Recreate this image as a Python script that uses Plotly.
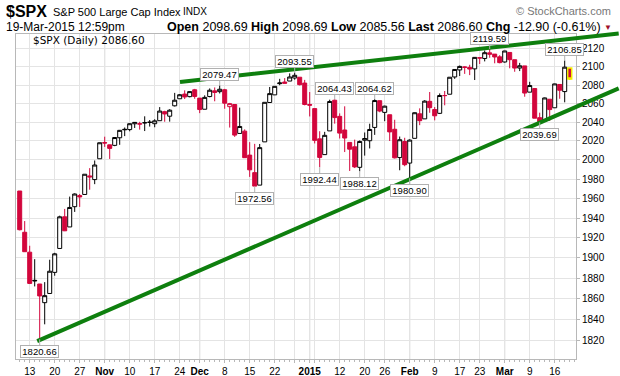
import numpy as np
import plotly.graph_objects as go

# ---------------- data ----------------
dates = [
    "2014-10-09", "2014-10-10", "2014-10-13", "2014-10-14", "2014-10-15", "2014-10-16", "2014-10-17",
    "2014-10-20", "2014-10-21", "2014-10-22", "2014-10-23", "2014-10-24", "2014-10-27", "2014-10-28",
    "2014-10-29", "2014-10-30", "2014-10-31",
    "2014-11-03", "2014-11-04", "2014-11-05", "2014-11-06", "2014-11-07", "2014-11-10", "2014-11-11",
    "2014-11-12", "2014-11-13", "2014-11-14", "2014-11-17", "2014-11-18", "2014-11-19", "2014-11-20",
    "2014-11-21", "2014-11-24", "2014-11-25", "2014-11-26", "2014-11-28",
    "2014-12-01", "2014-12-02", "2014-12-03", "2014-12-04", "2014-12-05", "2014-12-08", "2014-12-09",
    "2014-12-10", "2014-12-11", "2014-12-12", "2014-12-15", "2014-12-16", "2014-12-17", "2014-12-18",
    "2014-12-19", "2014-12-22", "2014-12-23", "2014-12-24", "2014-12-26", "2014-12-29", "2014-12-30",
    "2014-12-31",
    "2015-01-02", "2015-01-05", "2015-01-06", "2015-01-07", "2015-01-08", "2015-01-09", "2015-01-12",
    "2015-01-13", "2015-01-14", "2015-01-15", "2015-01-16", "2015-01-20", "2015-01-21", "2015-01-22",
    "2015-01-23", "2015-01-26", "2015-01-27", "2015-01-28", "2015-01-29", "2015-01-30",
    "2015-02-02", "2015-02-03", "2015-02-04", "2015-02-05", "2015-02-06", "2015-02-09", "2015-02-10",
    "2015-02-11", "2015-02-12", "2015-02-13", "2015-02-17", "2015-02-18", "2015-02-19", "2015-02-20",
    "2015-02-23", "2015-02-24", "2015-02-25", "2015-02-26", "2015-02-27",
    "2015-03-02", "2015-03-03", "2015-03-04", "2015-03-05", "2015-03-06", "2015-03-09", "2015-03-10",
    "2015-03-11", "2015-03-12", "2015-03-13", "2015-03-16", "2015-03-17", "2015-03-18", "2015-03-19",
]

opens = [
    1967.68, 1925.63, 1905.65, 1877.11, 1874.18, 1855.95, 1864.91, 1885.62, 1909.38, 1941.29, 1931.02,
    1951.59, 1962.97, 1964.14, 1983.29, 1979.49, 2001.20,
    2018.21, 2015.81, 2015.29, 2023.33, 2032.36, 2032.01, 2038.20, 2037.75, 2039.21, 2039.74, 2038.29,
    2041.48, 2051.16, 2046.31, 2057.46, 2065.07, 2070.15, 2067.36, 2074.78,
    2065.78, 2053.77, 2067.45, 2073.64, 2072.78, 2074.84, 2056.55, 2058.86, 2027.92, 2030.36, 2005.03,
    1986.71, 1973.77, 2018.98, 2061.04, 2069.28, 2081.48, 2083.25, 2084.30, 2087.63, 2088.49, 2082.11,
    2058.90, 2054.44, 2022.15, 2005.55, 2030.61, 2063.45, 2046.13, 2031.58, 2018.40, 2013.75, 1992.25,
    2020.76, 2020.19, 2034.30, 2062.98, 2050.42, 2047.86, 2032.34, 2002.45, 2019.35,
    1996.67, 2022.71, 2048.86, 2043.45, 2062.28, 2053.47, 2049.38, 2068.55, 2069.98, 2088.78, 2096.47,
    2099.16, 2099.25, 2097.65, 2109.83, 2109.10, 2115.30, 2113.91, 2110.88,
    2105.23, 2115.76, 2107.72, 2098.54, 2100.91, 2072.25, 2076.14, 2044.69, 2041.10, 2064.56, 2055.35,
    2080.59, 2072.84, 2098.69,
]

highs = [
    1967.68, 1936.98, 1912.09, 1898.71, 1874.18, 1876.01, 1898.16, 1905.03, 1942.45, 1949.31, 1961.95,
    1965.27, 1964.64, 1985.05, 1991.40, 1999.40, 2018.19,
    2024.46, 2015.98, 2023.77, 2031.61, 2034.26, 2038.70, 2039.82, 2040.33, 2046.18, 2042.22, 2043.07,
    2056.08, 2052.14, 2053.84, 2071.46, 2070.17, 2074.21, 2073.29, 2075.76,
    2065.78, 2068.77, 2076.28, 2077.34, 2079.47, 2075.78, 2060.60, 2058.86, 2055.53, 2032.25, 2018.69,
    2016.89, 2016.75, 2061.23, 2077.85, 2078.76, 2086.73, 2087.56, 2092.70, 2093.55, 2088.49, 2085.58,
    2072.36, 2054.44, 2030.25, 2029.61, 2064.08, 2064.43, 2049.30, 2056.93, 2018.40, 2021.35, 2020.46,
    2028.94, 2038.29, 2064.62, 2062.98, 2057.62, 2047.86, 2042.49, 2024.64, 2023.32,
    2021.66, 2050.30, 2054.74, 2063.55, 2072.40, 2056.16, 2070.86, 2073.48, 2088.53, 2097.03, 2101.30,
    2100.23, 2102.13, 2110.61, 2110.05, 2117.94, 2119.59, 2113.91, 2112.74,
    2117.52, 2115.76, 2107.72, 2104.25, 2100.91, 2083.49, 2076.14, 2050.08, 2066.41, 2064.56, 2081.41,
    2080.59, 2106.85, 2098.69,
]

lows = [
    1927.56, 1906.05, 1874.14, 1871.79, 1820.66, 1835.02, 1864.91, 1882.30, 1909.38, 1926.83, 1931.02,
    1946.27, 1951.37, 1964.14, 1969.04, 1974.75, 2001.20,
    2013.68, 2001.01, 2014.42, 2015.86, 2025.07, 2030.17, 2033.73, 2031.95, 2030.44, 2035.20, 2034.46,
    2041.48, 2040.37, 2040.49, 2056.75, 2065.07, 2064.75, 2066.62, 2065.06,
    2049.57, 2053.77, 2066.65, 2062.34, 2070.81, 2054.27, 2034.17, 2024.26, 2027.92, 2002.33, 1982.26,
    1972.56, 1973.77, 2018.98, 2061.03, 2069.28, 2079.77, 2081.86, 2084.30, 2085.75, 2079.53, 2057.94,
    2046.04, 2017.34, 1992.44, 2005.55, 2030.61, 2038.33, 2022.58, 2008.25, 1988.44, 1991.47, 1988.12,
    2004.49, 2012.04, 2026.38, 2050.54, 2040.97, 2019.91, 2001.49, 1989.18, 1993.38,
    1980.90, 2022.71, 2036.72, 2043.45, 2049.97, 2041.88, 2048.62, 2057.99, 2069.98, 2086.70, 2089.80,
    2092.15, 2090.79, 2085.44, 2103.00, 2105.87, 2109.89, 2103.76, 2103.75,
    2104.50, 2098.26, 2094.49, 2095.22, 2067.27, 2072.21, 2044.16, 2039.69, 2041.10, 2041.17, 2055.35,
    2065.08, 2061.23, 2085.56,
]

closes = [
    1928.21, 1906.13, 1874.74, 1877.70, 1862.49, 1862.76, 1886.76, 1904.01, 1941.28, 1927.11, 1950.82,
    1964.58, 1961.63, 1985.05, 1982.30, 1994.65, 2018.05,
    2017.81, 2012.10, 2023.57, 2031.21, 2031.92, 2038.26, 2039.68, 2038.25, 2039.33, 2039.82, 2041.32,
    2051.80, 2048.72, 2052.75, 2063.50, 2069.41, 2067.03, 2072.83, 2067.56,
    2053.44, 2066.55, 2074.33, 2071.92, 2075.37, 2060.31, 2059.82, 2026.14, 2035.33, 2002.33, 1989.63,
    1972.74, 2012.89, 2061.23, 2070.65, 2078.54, 2082.17, 2081.88, 2088.77, 2090.57, 2080.35, 2058.90,
    2058.20, 2020.58, 2002.61, 2025.90, 2062.14, 2044.81, 2028.26, 2023.03, 2011.27, 1992.67, 2019.42,
    2022.55, 2032.12, 2063.15, 2051.82, 2057.09, 2029.55, 2002.16, 2021.25, 1994.99,
    2020.85, 2050.03, 2041.51, 2062.52, 2055.47, 2046.74, 2068.59, 2068.53, 2088.48, 2096.99, 2100.34,
    2099.68, 2097.45, 2110.30, 2109.66, 2115.48, 2113.86, 2110.74, 2104.50,
    2117.39, 2107.78, 2098.53, 2101.04, 2071.26, 2079.43, 2044.16, 2040.24, 2065.95, 2053.40, 2081.19,
    2074.28, 2099.50, 2086.60,
]

prior_close = 1968.89  # close of the session before the first bar

week_tick_dates = [
    "2014-10-13", "2014-10-20", "2014-10-27", "2014-11-03", "2014-11-10", "2014-11-17", "2014-11-24",
    "2014-12-01", "2014-12-08", "2014-12-15", "2014-12-22", "2014-12-29", "2015-01-02", "2015-01-05",
    "2015-01-12", "2015-01-20", "2015-01-26", "2015-02-02", "2015-02-09", "2015-02-17", "2015-02-23",
    "2015-03-02", "2015-03-09", "2015-03-16",
]
week_tick_labels = [
    "13", "20", "27", "<b>Nov</b>", "10", "17", "24",
    "<b>Dec</b>", "8", "15", "22", "", "<b>2015</b>", "",
    "12", "20", "26", "<b>Feb</b>", "9", "17", "23",
    "<b>Mar</b>", "9", "16",
]
month_start_dates = ["2014-11-03", "2014-12-01", "2015-01-02", "2015-02-02", "2015-03-02"]

y_tick_values = [1820, 1840, 1860, 1880, 1900, 1920, 1940, 1960, 1980, 2000,
                 2020, 2040, 2060, 2080, 2100, 2120]

callout_dates = ["2014-10-15", "2014-12-05", "2014-12-16", "2014-12-29", "2015-01-06", "2015-01-09",
                 "2015-01-16", "2015-01-22", "2015-02-02", "2015-02-25", "2015-03-11", "2015-03-18"]
callout_values = [1820.66, 2079.47, 1972.56, 2093.55, 1992.44, 2064.43,
                  1988.12, 2064.62, 1980.90, 2119.59, 2039.69, 2106.85]
callout_above = [False, True, False, True, False, True,
                 False, True, False, True, False, True]

# hand-drawn trend lines: (bar position, price) at start and end
upper_trend_pos = [32.06, 120.1]
upper_trend_val = [2083.4, 2137.0]
lower_trend_pos = [3.5, 120.1]
lower_trend_val = [1819.0, 2077.0]

# ---------------- figure ----------------
RED = "#d2063c"
BLACK = "#000000"
GREEN = "#0e7f0e"
FONT = "Liberation Sans, Arial, sans-serif"

idx = list(range(len(dates)))
prev_close = [prior_close] + closes[:-1]
last = len(dates) - 1
up_idx = [i for i in idx if closes[i] >= prev_close[i] and i != last]
dn_idx = [i for i in idx if closes[i] < prev_close[i] and i != last]


def candle(sel, line_col, fill_dn, line_w=1.0):
    return go.Candlestick(
        x=[idx[i] for i in sel],
        open=[opens[i] for i in sel],
        high=[highs[i] for i in sel],
        low=[lows[i] for i in sel],
        close=[closes[i] for i in sel],
        increasing=dict(line=dict(color=line_col, width=line_w), fillcolor="#ffffff"),
        decreasing=dict(line=dict(color=line_col, width=line_w), fillcolor=fill_dn),
        whiskerwidth=0,
        showlegend=False,
        hoverinfo="skip",
    )


fig = go.Figure()
fig.add_trace(candle(up_idx, BLACK, BLACK))
fig.add_trace(candle(dn_idx, RED, RED))
# current (intraday) bar highlighted in yellow
last_col = RED if closes[last] < prev_close[last] else BLACK
fig.add_trace(candle([last], "#f2ee00", last_col, 1.5))

# month separators (darker vertical lines)
for d in month_start_dates:
    fig.add_shape(type="line", xref="x", yref="paper", x0=dates.index(d), x1=dates.index(d),
                  y0=0, y1=1, line=dict(color="#c2c2c2", width=1), layer="below")

# trend lines as data-anchored arrows (not clipped, so they run past the plot edge)
for pos, val in ((upper_trend_pos, upper_trend_val), (lower_trend_pos, lower_trend_val)):
    fig.add_annotation(
        x=pos[0], y=np.log10(val[0]), xref="x", yref="y",
        ax=pos[1], ay=np.log10(val[1]), axref="x", ayref="y",
        text="", showarrow=True, arrowhead=0, arrowwidth=4, arrowcolor=GREEN,
        standoff=0, startstandoff=0,
    )

# high/low callouts
for d, v, above in zip(callout_dates, callout_values, callout_above):
    fig.add_annotation(
        x=dates.index(d), y=np.log10(v), xref="x", yref="y",
        text=f"{v:.2f}", showarrow=True, arrowhead=0, arrowwidth=1, arrowcolor="#b0b0b0",
        ax=0, ay=-11 if above else 12, standoff=0,
        height=11, width=37,
        bgcolor="#ffffff", bordercolor="#b0b0b0", borderwidth=1, borderpad=0,
        font=dict(family=FONT, size=9.5, color="#000000"),
    )

# ---------------- layout / text ----------------
L, R, T, B = 16, 576, 34, 359
W, H = 620, 376


def px(xp):
    return (xp - L) / (R - L)


def py(yp):
    return (B - yp) / (B - T)


def header(text, xp, yp, size, anchor="left", color="#000000", family=FONT):
    fig.add_annotation(xref="paper", yref="paper", x=px(xp), y=py(yp), text=text,
                       showarrow=False, xanchor=anchor, yanchor="middle",
                       font=dict(family=family, size=size, color=color))


header("<b>$SPX</b>", 4, 12, 16)
header("S&P 500 Large Cap Index", 51, 12, 11)
header("INDX", 181, 12, 10)
header("© StockCharts.com", 613, 11, 11, anchor="right", color="#777777")
header("19-Mar-2015 12:59pm", 4, 27, 12)
header("<b>Open</b> 2098.69 <b>High</b> 2098.69 <b>Low</b> 2085.56 <b>Last</b> 2086.60 "
       "<b>Chg</b> -12.90 (-0.61%)", 603, 27, 12.5, anchor="right")
header("▼", 614, 27, 8, anchor="right", color="#a0102a")
header("$SPX (Daily) 2086.60", 31, 40, 10.5, family="DejaVu Sans, sans-serif")

tick_pos = [dates.index(d) for d in week_tick_dates]

fig.update_layout(
    width=W, height=H,
    margin=dict(l=L, r=W - R, t=T, b=H - B, autoexpand=False),
    paper_bgcolor="#ffffff", plot_bgcolor="#ffffff",
    boxgap=0.2, boxgroupgap=0,
    font=dict(family=FONT, size=10, color="#000000"),
    showlegend=False,
    xaxis=dict(
        range=[-0.74, 111.26],
        tickmode="array", tickvals=tick_pos, ticktext=week_tick_labels,
        showgrid=True, gridcolor="#e4e4e4", gridwidth=1,
        showline=True, linecolor="#b8b8b8", linewidth=1, mirror=True,
        ticks="outside", ticklen=3, tickcolor="#b8b8b8",
        minor=dict(tickmode="linear", tick0=0, dtick=1, ticks="outside", ticklen=2,
                   tickcolor="#b8b8b8", showgrid=False),
        tickfont=dict(family=FONT, size=10, color="#000000"),
        rangeslider=dict(visible=False),
        zeroline=False, fixedrange=True, automargin=False,
    ),
    yaxis=dict(
        type="log", side="right",
        range=[np.log10(1802.0), np.log10(2136.3)],
        tickmode="array", tickvals=y_tick_values, ticktext=[str(v) for v in y_tick_values],
        showgrid=True, gridcolor="#e4e4e4", gridwidth=1,
        showline=True, linecolor="#b8b8b8", linewidth=1, mirror=True,
        ticks="outside", ticklen=3, tickcolor="#b8b8b8",
        tickfont=dict(family=FONT, size=10, color="#000000"),
        zeroline=False, fixedrange=True, automargin=False,
    ),
)

fig.write_html(
    "out.html",
    config={"displayModeBar": False, "staticPlot": True},
    post_script="document.body.style.margin='0';document.body.style.overflow='hidden';",
)
